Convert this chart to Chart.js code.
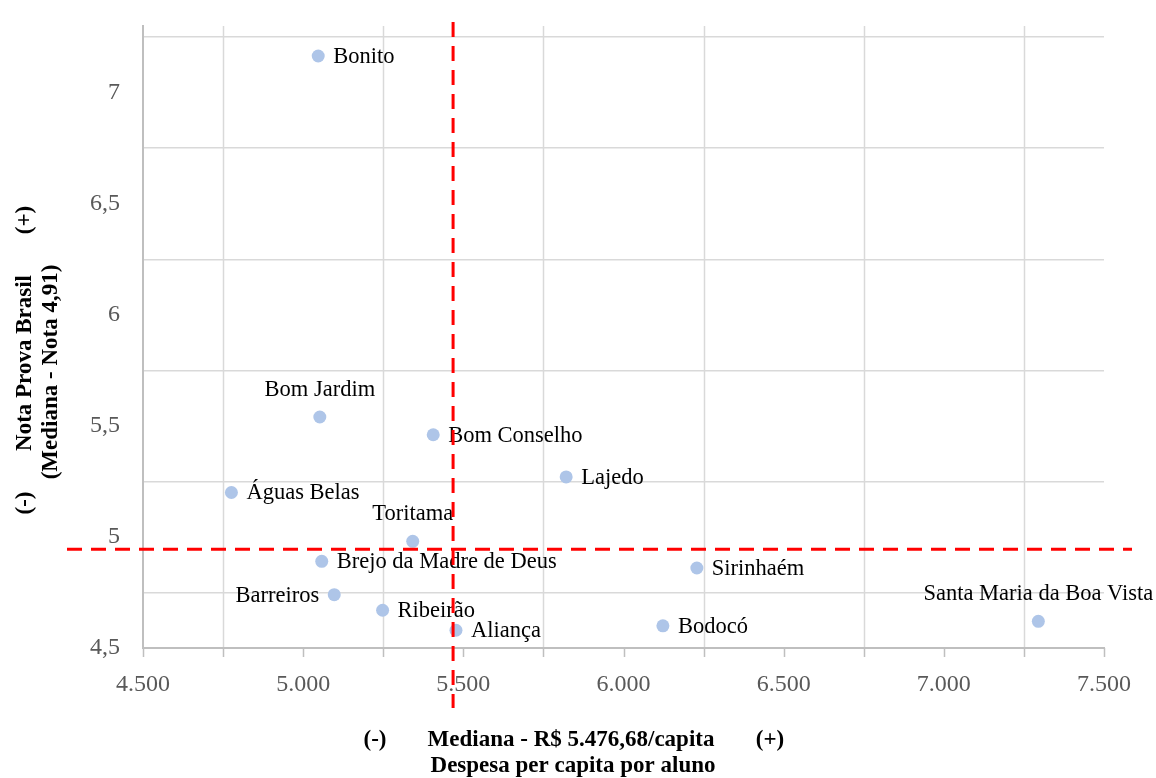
<!DOCTYPE html>
<html>
<head>
<meta charset="utf-8">
<script src="https://cdn.jsdelivr.net/npm/chart.js@4"></script>
<style>
  body { margin: 0; background: #fff; }
  #wrap { width: 1156px; height: 778px; }
</style>
</head>
<body>
<div id="wrap"><canvas id="quadrante" width="1156" height="778"></canvas></div>
<script>
// municipios e valores
const municipios = [
    'Bonito', 'Bom Jardim', 'Bom Conselho', 'Lajedo', 'Águas Belas', 'Toritama',
    'Brejo da Madre de Deus', 'Sirinhaém', 'Barreiros', 'Ribeirão', 'Aliança',
    'Bodocó', 'Santa Maria da Boa Vista'
];
const despesa = [5047, 5052, 5406, 5821, 4776, 5342, 5058, 6229, 5097, 5248, 5477, 6123, 7295];
const nota = [7.165, 5.54, 5.46, 5.27, 5.20, 4.98, 4.89, 4.86, 4.74, 4.67, 4.58, 4.60, 4.62];

// linhas de mediana (posicao como aparece no grafico)
const medianaDespesa = 5468;
const medianaNota = 4.945;

const xTitulo = ['(-)', 'Mediana - R$ 5.476,68/capita', '(+)', 'Despesa per capita por aluno'];
const yTitulo = ['(-)', 'Nota Prova Brasil', '(+)', '(Mediana - Nota 4,91)'];

const serif = "'Liberation Serif', 'Times New Roman', serif";
const corPonto = '#aec5e8';
const corGrade = '#d9d9d9';
const corEixo = '#bfbfbf';
const semCor = 'rgba(0,0,0,0)';

// onde fica cada rotulo em relacao ao ponto
const posRotulo = {
    'Bom Jardim': 'above',
    'Toritama': 'above',
    'Santa Maria da Boa Vista': 'above',
    'Barreiros': 'left'
};

function fmtMil(v) {
    return String(v).replace(/\B(?=(\d{3})+(?!\d))/g, '.');
}

function corGradeY(c) {
    return (c.tick && Math.round(c.tick.value * 4) % 2 === 1) ? corGrade : semCor;
}

// grade vertical (so 4.750, 5.250, ...) e tracinhos do eixo x a cada 250
const gradeX = {
    id: 'gradeX',
    beforeDatasetsDraw(chart) {
        const ctx = chart.ctx;
        const xs = chart.scales.x;
        const area = chart.chartArea;
        ctx.save();
        ctx.lineWidth = 1.5;
        xs.ticks.forEach((t) => {
            let px = Math.round(xs.getPixelForValue(t.value)) + 0.5;
            if (t.value % 500 !== 0) {
                ctx.strokeStyle = corGrade;
                ctx.beginPath();
                ctx.moveTo(px, area.top);
                ctx.lineTo(px, area.bottom - 1);
                ctx.stroke();
            }
            ctx.strokeStyle = corEixo;
            ctx.beginPath();
            ctx.moveTo(px, area.bottom);
            ctx.lineTo(px, area.bottom + 9);
            ctx.stroke();
        });
        ctx.restore();
    }
};

const rotulos = {
    id: 'rotulos',
    afterDatasetsDraw(chart) {
        const ctx = chart.ctx;
        const meta = chart.getDatasetMeta(0);
        ctx.save();
        ctx.font = '22.5px ' + serif;
        ctx.fillStyle = '#000';
        ctx.textBaseline = 'middle';
        meta.data.forEach((pt, i) => {
            let nome = municipios[i];
            let pos = posRotulo[nome] || 'right';
            if (pos == 'above') {
                ctx.textAlign = 'center';
                ctx.fillText(nome, pt.x, pt.y - 27);
            } else if (pos == 'left') {
                ctx.textAlign = 'right';
                ctx.fillText(nome, pt.x - 15, pt.y + 1);
            } else {
                ctx.textAlign = 'left';
                ctx.fillText(nome, pt.x + 15, pt.y + 1);
            }
        });
        ctx.restore();
    }
};

const medianas = {
    id: 'medianas',
    afterDraw(chart) {
        const ctx = chart.ctx;
        const xs = chart.scales.x, ys = chart.scales.y;
        let px = xs.getPixelForValue(medianaDespesa);
        let py = ys.getPixelForValue(medianaNota);
        ctx.save();
        ctx.strokeStyle = '#ff0000';
        ctx.lineWidth = 3;
        ctx.setLineDash([15, 9]);
        ctx.beginPath();
        ctx.moveTo(67, py);
        ctx.lineTo(1132, py);
        ctx.stroke();
        ctx.beginPath();
        ctx.moveTo(px, 22);
        ctx.lineTo(px, 708);
        ctx.stroke();
        ctx.restore();

        // titulos dos eixos
        ctx.save();
        ctx.fillStyle = '#000';
        ctx.font = 'bold 23px ' + serif;
        ctx.textAlign = 'center';
        ctx.textBaseline = 'middle';
        ctx.fillText(xTitulo[0], 375, 740);
        ctx.fillText(xTitulo[1], 571, 740);
        ctx.fillText(xTitulo[2], 770, 740);
        ctx.fillText(xTitulo[3], 573, 766);

        ctx.rotate(-Math.PI / 2);
        ctx.fillText(yTitulo[0], -503, 25);
        ctx.fillText(yTitulo[1], -363, 25);
        ctx.fillText(yTitulo[2], -220, 25);
        ctx.fillText(yTitulo[3], -372, 51);
        ctx.restore();
    }
};

const ctx = document.getElementById('quadrante').getContext('2d');
const myChart = new Chart(ctx, {
    type: 'scatter',
    data: {
        datasets: [{
            data: despesa.map((d, i) => ({x: d, y: nota[i]})),
            backgroundColor: corPonto,
            borderWidth: 0,
            pointRadius: 6.5,
            pointHoverRadius: 6.5
        }]
    },
    options: {
        responsive: false,
        animation: false,
        layout: {
            padding: {left: 0, right: 52, top: 26, bottom: 0}
        },
        plugins: {
            legend: {display: false},
            tooltip: {enabled: false}
        },
        scales: {
            x: {
                type: 'linear',
                min: 4500,
                max: 7500,
                afterFit: (s) => { s.height = 130; },
                border: {color: corEixo, width: 2},
                grid: {
                    display: false,
                    drawTicks: false
                },
                ticks: {
                    stepSize: 250,
                    autoSkip: false,
                    maxRotation: 0,
                    padding: 22,
                    color: '#595959',
                    font: {family: serif, size: 24},
                    callback: (v) => v % 500 === 0 ? fmtMil(v) : ''
                }
            },
            y: {
                type: 'linear',
                min: 4.5,
                max: 7.3,
                afterFit: (s) => {
                    s.width = 143;
                    s.paddingTop = 0;
                    s.paddingBottom = 0;
                },
                border: {color: corEixo, width: 2},
                grid: {
                    color: corGradeY,
                    drawTicks: false,
                    lineWidth: 1.5
                },
                ticks: {
                    stepSize: 0.25,
                    includeBounds: false,
                    autoSkip: false,
                    padding: 23,
                    color: '#595959',
                    font: {family: serif, size: 24},
                    callback: (v) => Math.round(v * 4) % 2 === 0 ? String(v).replace('.', ',') : ''
                }
            }
        }
    },
    plugins: [gradeX, rotulos, medianas]
});
</script>
</body>
</html>
